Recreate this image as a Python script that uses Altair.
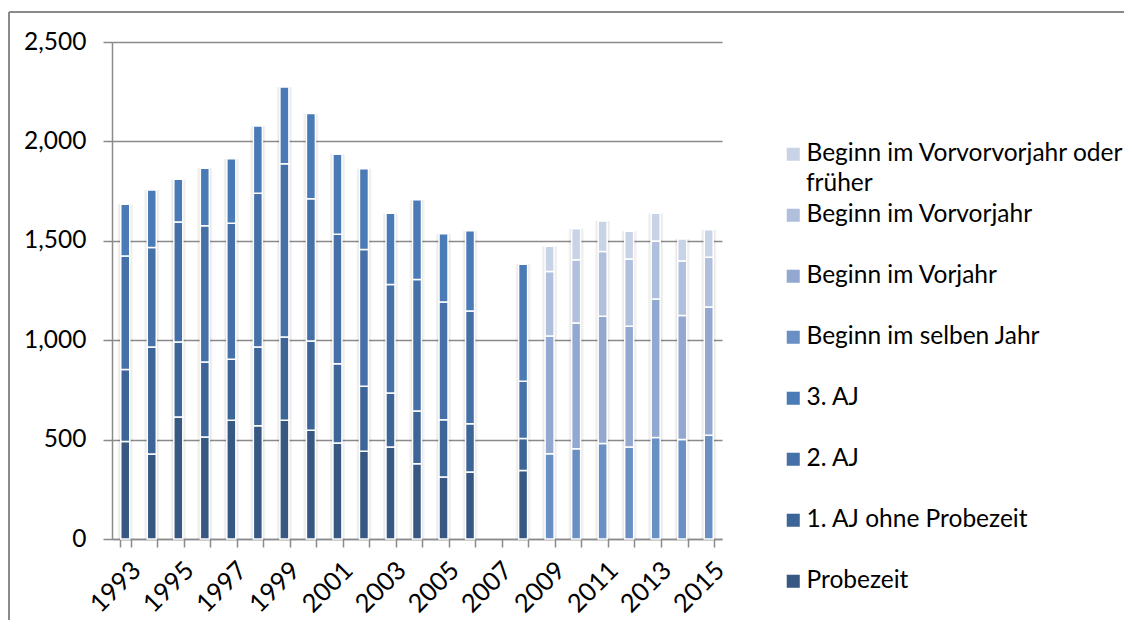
import altair as alt
import pandas as pd

years = list(range(1993, 2016))

# Values per series (None = no data); 2007 has no data at all
probezeit = [491, 428, 614, 513, 597, 570, 597, 547, 483, 441, 463, 379, 312, 337, None, 345,
             None, None, None, None, None, None, None]
aj1 = [361, 538, 377, 377, 307, 396, 419, 449, 399, 327, 272, 265, 288, 243, None, 160,
       None, None, None, None, None, None, None]
aj2 = [572, 500, 604, 686, 684, 773, 872, 716, 651, 688, 545, 661, 592, 567, None, 288,
       None, None, None, None, None, None, None]
aj3 = [260, 290, 215, 289, 325, 339, 386, 428, 402, 407, 358, 402, 344, 404, None, 589,
       None, None, None, None, None, None, None]
selben = [None] * 16 + [429, 454, 480, 463, 510, 500, 522]
vorjahr = [None] * 16 + [592, 633, 640, 607, 697, 624, 645]
vorvorjahr = [None] * 16 + [324, 318, 326, 339, 292, 275, 250]
vorvorvor = [None] * 16 + [127, 155, 154, 139, 139, 110, 138]

series_names = ["Probezeit", "1. AJ ohne Probezeit", "2. AJ", "3. AJ",
                "Beginn im selben Jahr", "Beginn im Vorjahr", "Beginn im Vorvorjahr",
                "Beginn im Vorvorvorjahr oder früher"]
series_values = [probezeit, aj1, aj2, aj3, selben, vorjahr, vorvorjahr, vorvorvor]
series_colors = ["#375883", "#3e6597", "#4571a8", "#4a7bb7",
                 "#6a8fc4", "#93a8d0", "#afbfdc", "#c9d3e6"]
y_ticks = [0, 500, 1000, 1500, 2000, 2500]

rows = []
for i, (name, vals) in enumerate(zip(series_names, series_values)):
    for y, v in zip(years, vals):
        if v is not None:
            rows.append({"Jahr": str(y), "Serie": name, "Wert": v, "ord": i})
df = pd.DataFrame(rows)

year_domain = [str(y) for y in years]
legend_order = list(reversed(series_names))
legend_colors = list(reversed(series_colors))

FONT = "Lato"
GRAY = "#8a8a8a"
FS = 24.5

x_enc = alt.X("Jahr:N", scale=alt.Scale(domain=year_domain, paddingInner=0.6, paddingOuter=0.3),
              axis=alt.Axis(title=None, labelAngle=-45, labelFontSize=25.5,
                            labelExpr="toNumber(datum.value) % 2 == 1 ? datum.label : ''",
                            tickBand="extent", labelAlign="right", labelBaseline="middle",
                            labelOffset=11, labelPadding=19, tickSize=8))

y_scale = alt.Scale(domain=[0, 2500], nice=False)
y_axis = alt.Axis(title=None, values=y_ticks, format=",.0f", tickSize=9, labelPadding=17)

base = alt.Chart(df)

shadow = base.mark_bar(size=15, color="#000000", opacity=0.05).encode(
    x=x_enc,
    y=alt.Y("sum(Wert):Q", scale=y_scale, axis=y_axis),
)
shadow2 = base.mark_bar(size=12, color="#000000", opacity=0.05).encode(
    x=x_enc,
    y=alt.Y("sum(Wert):Q", scale=y_scale, axis=y_axis),
)

first_label = series_names[-1]
bars = base.mark_bar(size=9, stroke="white", strokeWidth=1.5).encode(
    x=x_enc,
    y=alt.Y("Wert:Q", stack="zero", scale=y_scale, axis=y_axis),
    color=alt.Color("Serie:N", scale=alt.Scale(domain=legend_order, range=legend_colors),
                    legend=alt.Legend(title=None, orient="none", legendX=669, legendY=100,
                                      symbolType="square", symbolSize=170, symbolStrokeWidth=0,
                                      labelFont=FONT, labelFontSize=FS, labelColor="#000000",
                                      labelOffset=1, rowPadding=36, labelLimit=400,
                                      labelExpr=f"datum.label == '{first_label}' ? 'Beginn im Vorvorvorjahr oder' : datum.label")),
    order=alt.Order("ord:Q", sort="ascending"),
)

# wrapped second line of the first legend label
wrap_text = alt.Chart(pd.DataFrame({"t": ["früher"]})).mark_text(
    font=FONT, fontSize=FS, align="left", baseline="middle", color="#000000"
).encode(text="t:N", x=alt.value(694), y=alt.value(142))

frame_top = alt.Chart(df).mark_rule(color=GRAY, strokeWidth=1.5).encode(
    x=alt.value(-103), x2=alt.value(1030), y=alt.value(-30))
frame_left = alt.Chart(df).mark_rule(color=GRAY, strokeWidth=1.5).encode(
    x=alt.value(-103), y=alt.value(-30), y2=alt.value(600))

chart = alt.layer(shadow, shadow2, bars, wrap_text, frame_top, frame_left).properties(
    width=610, height=497,
    autosize=alt.AutoSizeParams(type="none"),
    padding={"left": 104, "top": 34, "right": 402, "bottom": 81},
).configure_view(stroke=None).configure_axis(
    grid=False, domainColor=GRAY, domainWidth=1.5, tickColor=GRAY, tickWidth=1.5,
    labelFont=FONT, labelFontSize=FS, labelColor="#000000",
).configure_axisY(grid=True, gridColor=GRAY, gridWidth=1.5, domain=True)

chart.save("out.html", embed_options={"renderer": "svg", "actions": False})
